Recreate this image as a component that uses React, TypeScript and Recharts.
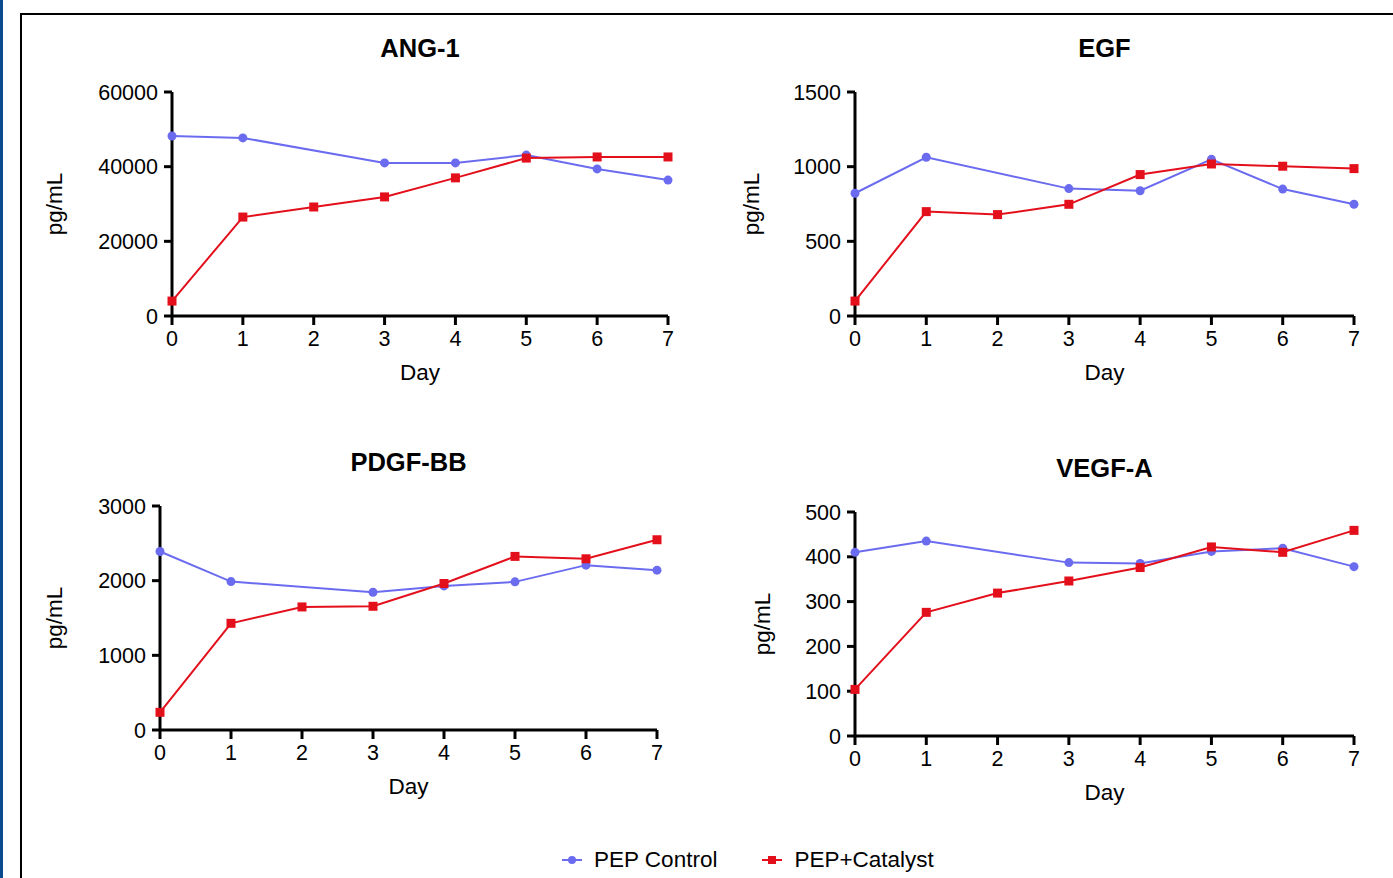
import React from 'react';
import { LineChart, Line, XAxis, YAxis } from 'recharts';

const DAYS = [0, 1, 2, 3, 4, 5, 6, 7];

// control has no day 2 sample, the line skips it
const ANG1_CONTROL = [48200, 47700, null, 41000, 41000, 43100, 39400, 36400];
const ANG1_CATALYST = [4000, 26500, 29200, 31900, 37000, 42300, 42600, 42600];
const EGF_CONTROL = [822, 1063, null, 853, 839, 1049, 850, 748];
const EGF_CATALYST = [100, 699, 679, 748, 947, 1018, 1003, 987];
const PDGF_CONTROL = [2391, 1988, null, 1845, 1930, 1984, 2208, 2141];
const PDGF_CATALYST = [237, 1429, 1648, 1657, 1962, 2325, 2293, 2548];
const VEGF_CONTROL = [410, 435, null, 387, 385, 412, 419, 378];
const VEGF_CATALYST = [104, 276, 319, 346, 376, 422, 410, 459];

const ANG1_TICKS = [0, 20000, 40000, 60000];
const EGF_TICKS = [0, 500, 1000, 1500];
const PDGF_TICKS = [0, 1000, 2000, 3000];
const VEGF_TICKS = [0, 100, 200, 300, 400, 500];

const BLUE = '#6b6bf0';
const RED = '#e3101c';
const FONT = '"Liberation Sans", Arial, Helvetica, sans-serif';

const SquareDot = (props: any) => {
  const { cx, cy, index } = props;
  if (cx == null || cy == null) return <g key={`sq-${index}`} />;
  return <rect key={`sq-${index}`} x={cx - 4.5} y={cy - 4.5} width={9} height={9} fill={RED} />;
};

interface PanelProps {
  title: string;
  control: (number | null)[];
  catalyst: number[];
  ticks: number[];
  x: number; // plot area left
  y: number; // plot area top
  w: number;
  h: number;
  labelX: number; // pg/mL center offset from plot left
}

const Panel: React.FC<PanelProps> = ({ title, control, catalyst, ticks, x, y, w, h, labelX }) => {
  const data = DAYS.map((d, i) => ({ day: d, control: control[i], catalyst: catalyst[i] }));
  const axisStyle = { stroke: '#000', strokeWidth: 3 };

  return (
    <>
      {/* title */}
      <div
        style={{
          position: 'absolute', left: x, top: y - 59, width: w, textAlign: 'center',
          fontSize: 25.5, fontWeight: 'bold', lineHeight: '30px'
        }}
      >
        {title}
      </div>
      {/* y label */}
      <div
        style={{
          position: 'absolute', left: x - labelX - 50, top: y + h / 2 - 14, width: 100, textAlign: 'center',
          fontSize: 22.5, lineHeight: '28px', transform: 'rotate(-90deg)'
        }}
      >
        pg/mL
      </div>
      {/* x label */}
      <div
        style={{
          position: 'absolute', left: x, top: y + h + 43, width: w, textAlign: 'center',
          fontSize: 22.5, lineHeight: '28px'
        }}
      >
        Day
      </div>

      <div style={{ position: 'absolute', left: x - 110, top: y - 20 }}>
        <LineChart
          width={w + 130}
          height={h + 60}
          data={data}
          margin={{ top: 20, right: 20, left: 30, bottom: 10 }}
        >
          <XAxis
            dataKey="day"
            type="number"
            domain={[0, 7]}
            ticks={DAYS}
            height={30}
            axisLine={axisStyle}
            tickLine={axisStyle}
            tickSize={9}
            tickMargin={6}
            tick={{ fill: '#000', fontSize: 21.5, fontFamily: FONT }}
          />
          <YAxis
            type="number"
            domain={[0, ticks[ticks.length - 1]]}
            ticks={ticks}
            width={80}
            axisLine={axisStyle}
            tickLine={axisStyle}
            tickSize={8}
            tickMargin={6}
            tick={{ fill: '#000', fontSize: 21.5, fontFamily: FONT }}
          />
          <Line
            dataKey="control"
            stroke={BLUE}
            strokeWidth={2}
            connectNulls
            dot={{ r: 4.5, fill: BLUE, stroke: BLUE, strokeWidth: 0 }}
            activeDot={false}
            isAnimationActive={false}
          />
          <Line
            dataKey="catalyst"
            stroke={RED}
            strokeWidth={2}
            dot={<SquareDot />}
            activeDot={false}
            isAnimationActive={false}
          />
        </LineChart>
      </div>
    </>
  );
};

const App: React.FC = () => {
  return (
    <div
      style={{
        position: 'absolute', left: 0, top: 0, width: 1393, height: 878, overflow: 'hidden',
        background: '#fff', fontFamily: FONT, color: '#000'
      }}
    >
      {/* frame */}
      <div style={{ position: 'absolute', left: 0, top: 0, width: 3, height: 878, background: '#0b4a8f' }} />
      <div
        style={{
          position: 'absolute', left: 20, top: 13, width: 1400, height: 900,
          borderLeft: '2px solid #000', borderTop: '2px solid #000'
        }}
      />

      <Panel title="ANG-1" control={ANG1_CONTROL} catalyst={ANG1_CATALYST} ticks={ANG1_TICKS}
        x={172} y={92} w={496} h={224} labelX={117} />
      <Panel title="EGF" control={EGF_CONTROL} catalyst={EGF_CATALYST} ticks={EGF_TICKS}
        x={855} y={92} w={499} h={224} labelX={103} />
      <Panel title="PDGF-BB" control={PDGF_CONTROL} catalyst={PDGF_CATALYST} ticks={PDGF_TICKS}
        x={160} y={506} w={497} h={224} labelX={105} />
      <Panel title="VEGF-A" control={VEGF_CONTROL} catalyst={VEGF_CATALYST} ticks={VEGF_TICKS}
        x={855} y={512} w={499} h={224} labelX={92} />

      {/* Legend */}
      <div style={{ position: 'absolute', left: 560, top: 846, display: 'flex', alignItems: 'center', fontSize: 22.5, lineHeight: '28px' }}>
        <svg width={24} height={12} style={{ marginRight: 10 }}>
          <line x1={2} y1={6} x2={22} y2={6} stroke={BLUE} strokeWidth={2} />
          <circle cx={12} cy={6} r={4} fill={BLUE} />
        </svg>
        <span>PEP Control</span>
        <svg width={24} height={12} style={{ marginLeft: 43, marginRight: 10 }}>
          <line x1={2} y1={6} x2={22} y2={6} stroke={RED} strokeWidth={2} />
          <rect x={8} y={2} width={8} height={8} fill={RED} />
        </svg>
        <span>PEP+Catalyst</span>
      </div>
    </div>
  );
};

export default App;
